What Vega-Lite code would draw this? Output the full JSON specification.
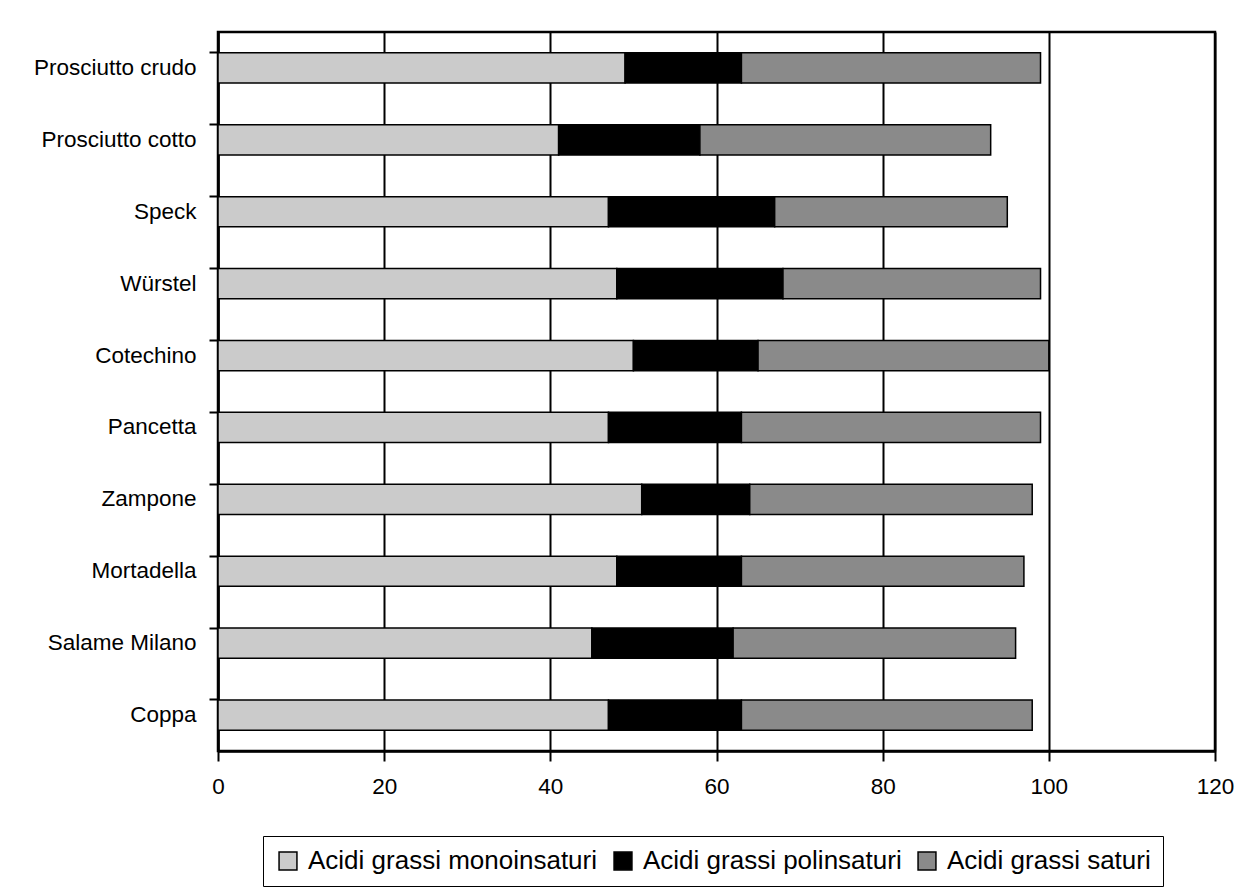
{
  "$schema": "https://vega.github.io/schema/vega-lite/v6.json",
  "autosize": {"type": "none"},
  "padding": {"left": 218, "top": 32, "right": 31, "bottom": 143},
  "width": 997,
  "height": 719,
  "background": "white",
  "data": {
    "values": [
      {"prodotto": "Prosciutto crudo", "tipo": "Acidi grassi monoinsaturi", "ord": 1, "valore": 49},
      {"prodotto": "Prosciutto crudo", "tipo": "Acidi grassi polinsaturi", "ord": 2, "valore": 14},
      {"prodotto": "Prosciutto crudo", "tipo": "Acidi grassi saturi", "ord": 3, "valore": 36},
      {"prodotto": "Prosciutto cotto", "tipo": "Acidi grassi monoinsaturi", "ord": 1, "valore": 41},
      {"prodotto": "Prosciutto cotto", "tipo": "Acidi grassi polinsaturi", "ord": 2, "valore": 17},
      {"prodotto": "Prosciutto cotto", "tipo": "Acidi grassi saturi", "ord": 3, "valore": 35},
      {"prodotto": "Speck", "tipo": "Acidi grassi monoinsaturi", "ord": 1, "valore": 47},
      {"prodotto": "Speck", "tipo": "Acidi grassi polinsaturi", "ord": 2, "valore": 20},
      {"prodotto": "Speck", "tipo": "Acidi grassi saturi", "ord": 3, "valore": 28},
      {"prodotto": "Würstel", "tipo": "Acidi grassi monoinsaturi", "ord": 1, "valore": 48},
      {"prodotto": "Würstel", "tipo": "Acidi grassi polinsaturi", "ord": 2, "valore": 20},
      {"prodotto": "Würstel", "tipo": "Acidi grassi saturi", "ord": 3, "valore": 31},
      {"prodotto": "Cotechino", "tipo": "Acidi grassi monoinsaturi", "ord": 1, "valore": 50},
      {"prodotto": "Cotechino", "tipo": "Acidi grassi polinsaturi", "ord": 2, "valore": 15},
      {"prodotto": "Cotechino", "tipo": "Acidi grassi saturi", "ord": 3, "valore": 35},
      {"prodotto": "Pancetta", "tipo": "Acidi grassi monoinsaturi", "ord": 1, "valore": 47},
      {"prodotto": "Pancetta", "tipo": "Acidi grassi polinsaturi", "ord": 2, "valore": 16},
      {"prodotto": "Pancetta", "tipo": "Acidi grassi saturi", "ord": 3, "valore": 36},
      {"prodotto": "Zampone", "tipo": "Acidi grassi monoinsaturi", "ord": 1, "valore": 51},
      {"prodotto": "Zampone", "tipo": "Acidi grassi polinsaturi", "ord": 2, "valore": 13},
      {"prodotto": "Zampone", "tipo": "Acidi grassi saturi", "ord": 3, "valore": 34},
      {"prodotto": "Mortadella", "tipo": "Acidi grassi monoinsaturi", "ord": 1, "valore": 48},
      {"prodotto": "Mortadella", "tipo": "Acidi grassi polinsaturi", "ord": 2, "valore": 15},
      {"prodotto": "Mortadella", "tipo": "Acidi grassi saturi", "ord": 3, "valore": 34},
      {"prodotto": "Salame Milano", "tipo": "Acidi grassi monoinsaturi", "ord": 1, "valore": 45},
      {"prodotto": "Salame Milano", "tipo": "Acidi grassi polinsaturi", "ord": 2, "valore": 17},
      {"prodotto": "Salame Milano", "tipo": "Acidi grassi saturi", "ord": 3, "valore": 34},
      {"prodotto": "Coppa", "tipo": "Acidi grassi monoinsaturi", "ord": 1, "valore": 47},
      {"prodotto": "Coppa", "tipo": "Acidi grassi polinsaturi", "ord": 2, "valore": 16},
      {"prodotto": "Coppa", "tipo": "Acidi grassi saturi", "ord": 3, "valore": 35}
    ]
  },
  "mark": {"type": "bar", "stroke": "black", "strokeWidth": 1.5},
  "encoding": {
    "y": {
      "field": "prodotto",
      "type": "nominal",
      "sort": ["Prosciutto crudo", "Prosciutto cotto", "Speck", "Würstel", "Cotechino", "Pancetta", "Zampone", "Mortadella", "Salame Milano", "Coppa"],
      "scale": {"paddingInner": 0.58, "paddingOuter": 0.29},
      "axis": {
        "title": null,
        "bandPosition": 0,
        "tickSize": 9,
        "tickWidth": 2,
        "tickColor": "black",
        "domainColor": "black",
        "domainWidth": 2.5,
        "labelPadding": 13,
        "labelFont": "Liberation Sans",
        "labelFontSize": 22.5,
        "labelColor": "black",
        "labelLimit": 300,
        "grid": false
      }
    },
    "x": {
      "field": "valore",
      "type": "quantitative",
      "stack": "zero",
      "scale": {"domain": [0, 120], "nice": false},
      "axis": {
        "title": null,
        "values": [0, 20, 40, 60, 80, 100, 120],
        "tickSize": 10,
        "tickWidth": 2,
        "tickColor": "black",
        "domainColor": "black",
        "domainWidth": 2.5,
        "grid": true,
        "gridColor": "black",
        "gridWidth": 2,
        "gridOpacity": 1,
        "labelFlush": false,
        "labelPadding": 14,
        "labelFont": "Liberation Sans",
        "labelFontSize": 22.5,
        "labelColor": "black"
      }
    },
    "color": {
      "field": "tipo",
      "type": "nominal",
      "scale": {
        "domain": ["Acidi grassi monoinsaturi", "Acidi grassi polinsaturi", "Acidi grassi saturi"],
        "range": ["#cbcbcb", "#000000", "#8a8a8a"]
      },
      "legend": {
        "title": null,
        "orient": "none",
        "direction": "horizontal",
        "legendX": 45,
        "legendY": 804,
        "columns": 3,
        "columnPadding": 12,
        "padding": 12,
        "strokeColor": "black",
        "symbolType": "square",
        "symbolSize": 320,
        "symbolStrokeColor": "black",
        "symbolStrokeWidth": 1.5,
        "symbolOpacity": 1,
        "labelOffset": 7,
        "labelFont": "Liberation Sans",
        "labelFontSize": 26,
        "labelColor": "black",
        "labelLimit": 400
      }
    },
    "order": {"field": "ord", "type": "quantitative"}
  },
  "config": {
    "view": {"stroke": "black", "strokeWidth": 2.5}
  }
}
